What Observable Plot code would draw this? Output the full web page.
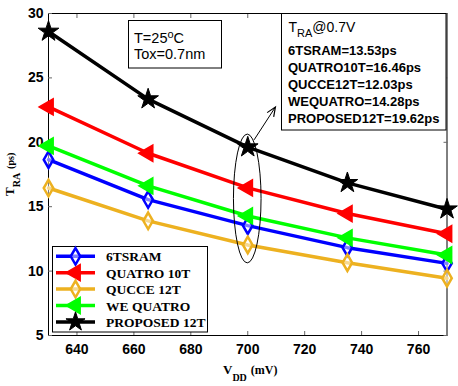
<!DOCTYPE html>
<html>
<head>
<meta charset="utf-8">
<script src="https://cdn.jsdelivr.net/npm/d3@7"></script>
<script src="https://cdn.jsdelivr.net/npm/@observablehq/plot@0.6"></script>
<style>
  html, body { margin: 0; padding: 0; background: #fff; }
</style>
</head>
<body>
<div id="chart"></div>
<script>
// ---- data ----
const vdd = [630, 665, 700, 735, 770];
const sram6t = [18.65, 15.55, 13.53, 11.82, 10.6];
const quatro10t = [22.75, 19.15, 16.46, 14.47, 12.9];
const qucce12t = [16.45, 13.9, 12.03, 10.65, 9.45];
const weQuatro = [19.72, 16.62, 14.28, 12.58, 11.25];
const proposed12t = [28.6, 23.35, 19.62, 16.85, 14.8];

const seriesNames = ["6TSRAM", "QUATRO 10T", "QUCCE 12T", "WE QUATRO", "PROPOSED 12T"];
const seriesValues = [sram6t, quatro10t, qucce12t, weQuatro, proposed12t];
const seriesColors = ["#0000ff", "#ff0000", "#edb120", "#00ff00", "#000000"];
const seriesSymbols = ["diamond", "triangle", "diamond", "triangle", "star"];

const xTicks = [640, 660, 680, 700, 720, 740, 760];
const yTicks = [5, 10, 15, 20, 25, 30];

const infoLines = ["6TSRAM=13.53ps", "QUATRO10T=16.46ps", "QUCCE12T=12.03ps", "WEQUATRO=14.28ps", "PROPOSED12T=19.62ps"];
// ellipse annotation around V=700 (center x, center y, rx in mV, ry in ps)
const ellipseSpec = [700, 15.6, 4.85, 5.0];
// arrow annotation from (x1,y1) to (x2,y2) in data units
const arrowSpec = [702.4, 20.15, 709.9, 22.7];

const rows = [];
seriesNames.forEach((name, i) => {
  vdd.forEach((v, j) => rows.push({series: name, i, vdd: v, t: seriesValues[i][j]}));
});

const marks = [];
seriesNames.forEach((name, i) => {
  const data = rows.filter(d => d.i === i);
  const c = seriesColors[i];
  marks.push(Plot.line(data, {x: "vdd", y: "t", stroke: c, strokeWidth: 3.5}));
  const sym = seriesSymbols[i];
  if (sym === "diamond") {
    marks.push(Plot.dot(data, {x: "vdd", y: "t", symbol: "diamond", r: 5, stroke: c, strokeWidth: 2.5, fill: "#fff", fillOpacity: 0.5}));
  } else if (sym === "triangle") {
    marks.push(Plot.dot(data, {x: "vdd", y: "t", symbol: "triangle", rotate: -90, r: 6, fill: c, stroke: c, strokeWidth: 1.5}));
  } else {
    marks.push(Plot.dot(data, {x: "vdd", y: "t", symbol: "star", r: 6.5, fill: c, stroke: c, strokeWidth: 1}));
  }
});

const chart = Plot.plot({
  width: 458,
  height: 386,
  marginLeft: 48,
  marginRight: 11.5,
  marginTop: 13,
  marginBottom: 51,
  style: {fontFamily: "'Liberation Sans', Arial, sans-serif", fontSize: "14px", fontWeight: "bold", color: "#000", background: "#fff"},
  x: {domain: [630, 770]},
  y: {domain: [5, 30]},
  marks: [
    Plot.frame({stroke: "#000", strokeWidth: 1}),
    Plot.axisX(xTicks, {anchor: "bottom", tickSize: -4, tickPadding: 13, label: null, stroke: "#666"}),
    Plot.axisX(xTicks, {anchor: "top", tickSize: -4, tickFormat: () => "", label: null, stroke: "#666"}),
    Plot.axisY(yTicks, {anchor: "left", tickSize: -4, tickPadding: 9, label: null, stroke: "#666"}),
    Plot.axisY(yTicks, {anchor: "right", tickSize: -4, tickFormat: () => "", label: null, stroke: "#666"}),
    ...marks
  ]
});

document.getElementById("chart").appendChild(chart);

const sx = chart.scale("x"), sy = chart.scale("y");
const root = d3.select(chart);
root.attr("overflow", "visible");
const svg = root.append("g").attr("text-anchor", "start").attr("fill", "#000");

// ellipse
const [ecx, ecy, erx, ery] = ellipseSpec;
svg.append("ellipse")
  .attr("cx", sx.apply(ecx)).attr("cy", sy.apply(ecy))
  .attr("rx", sx.apply(ecx + erx) - sx.apply(ecx))
  .attr("ry", sy.apply(ecy - ery) - sy.apply(ecy))
  .attr("fill", "none").attr("stroke", "#000").attr("stroke-width", 1);

// arrow
const [ax1, ay1, ax2, ay2] = arrowSpec;
const p1 = [sx.apply(ax1), sy.apply(ay1)], p2 = [sx.apply(ax2), sy.apply(ay2)];
svg.append("line").attr("x1", p1[0]).attr("y1", p1[1]).attr("x2", p2[0]).attr("y2", p2[1])
  .attr("stroke", "#000").attr("stroke-width", 1);
{
  const ang = Math.atan2(p2[1] - p1[1], p2[0] - p1[0]);
  const L = 10, w = 0.4;
  const a1 = [p2[0] - L * Math.cos(ang - w), p2[1] - L * Math.sin(ang - w)];
  const a2 = [p2[0] - L * Math.cos(ang + w), p2[1] - L * Math.sin(ang + w)];
  svg.append("path").attr("d", `M${a1}L${p2}L${a2}`).attr("fill", "none").attr("stroke", "#000").attr("stroke-width", 1.2);
}

// T / Tox text box
const box1 = svg.append("g");
box1.append("rect").attr("x", 128.5).attr("y", 20.5).attr("width", 93).attr("height", 47.5)
  .attr("fill", "#fff").attr("stroke", "#000").attr("stroke-width", 1);
const t1 = box1.append("text").attr("x", 134).attr("y", 42.5)
  .style("font-family", "'Liberation Sans', Arial, sans-serif").style("font-size", "14.5px").style("font-weight", "normal");
t1.append("tspan").text("T=25");
t1.append("tspan").attr("dy", -5).style("font-size", "11px").text("o");
t1.append("tspan").attr("dy", 5).text("C");
box1.append("text").attr("x", 134).attr("y", 59)
  .style("font-family", "'Liberation Sans', Arial, sans-serif").style("font-size", "14.5px").style("font-weight", "normal")
  .text("Tox=0.7nm");

// T_RA@0.7V info box
const box2 = svg.append("g");
box2.append("rect").attr("x", 281.5).attr("y", 13.5).attr("width", 164.5).attr("height", 116.5)
  .attr("fill", "#fff").attr("stroke", "#000").attr("stroke-width", 1);
const th = box2.append("text").attr("x", 288.5).attr("y", 32)
  .style("font-family", "'Liberation Sans', Arial, sans-serif").style("font-size", "14px").style("font-weight", "normal");
th.append("tspan").text("T");
th.append("tspan").attr("dy", 5).style("font-size", "11px").text("RA");
th.append("tspan").attr("dy", -5).text("@0.7V");
infoLines.forEach((s, i) => {
  box2.append("text").attr("x", 288).attr("y", 55 + i * 17.1)
    .style("font-family", "'Liberation Sans', Arial, sans-serif").style("font-size", "13px").style("font-weight", "bold")
    .text(s);
});

// legend
const lg = svg.append("g");
lg.append("rect").attr("x", 52.5).attr("y", 246.5).attr("width", 155).attr("height", 85.5)
  .attr("fill", "#fff").attr("stroke", "#000").attr("stroke-width", 1);
const symMap = {diamond: d3.symbolDiamond, triangle: d3.symbolTriangle, star: d3.symbolStar};
seriesNames.forEach((name, i) => {
  const y = 256.3 + i * 16.4;
  const c = seriesColors[i];
  lg.append("line").attr("x1", 56).attr("x2", 95).attr("y1", y).attr("y2", y)
    .attr("stroke", c).attr("stroke-width", 3.5);
  const sym = seriesSymbols[i];
  const size = sym === "star" ? Math.PI * 6 * 6 : sym === "triangle" ? Math.PI * 36 : Math.PI * 25;
  const p = lg.append("path").attr("d", d3.symbol(symMap[sym], size)())
    .attr("transform", `translate(75.5,${y})` + (sym === "triangle" ? " rotate(-90)" : ""));
  if (sym === "diamond") p.attr("fill", "#fff").attr("fill-opacity", 0.5).attr("stroke", c).attr("stroke-width", 2.5);
  else p.attr("fill", c).attr("stroke", c).attr("stroke-width", sym === "star" ? 1 : 1.5);
  lg.append("text").attr("x", 106).attr("y", y + 5)
    .style("font-family", "'Liberation Serif', 'Times New Roman', serif").style("font-size", "13.5px").style("font-weight", "bold")
    .text(name);
});

// axis labels
const xl = svg.append("text").attr("x", 223).attr("y", 374)
  .style("font-family", "'Liberation Serif', 'Times New Roman', serif").style("font-weight", "bold").style("font-size", "13px");
xl.append("tspan").text("V");
xl.append("tspan").attr("dy", 7).style("font-size", "10px").text("DD");
xl.append("tspan").attr("dy", -7).attr("dx", 4).style("font-size", "12px").text("(mV)");

const yl = svg.append("text").attr("transform", "translate(14,196) rotate(-90)")
  .style("font-family", "'Liberation Serif', 'Times New Roman', serif").style("font-weight", "bold").style("font-size", "13px");
yl.append("tspan").text("T");
yl.append("tspan").attr("dy", 6).style("font-size", "10px").text("RA");
yl.append("tspan").attr("dy", -6).attr("dx", 4).style("font-size", "10px").text("(ps)");
</script>
</body>
</html>
